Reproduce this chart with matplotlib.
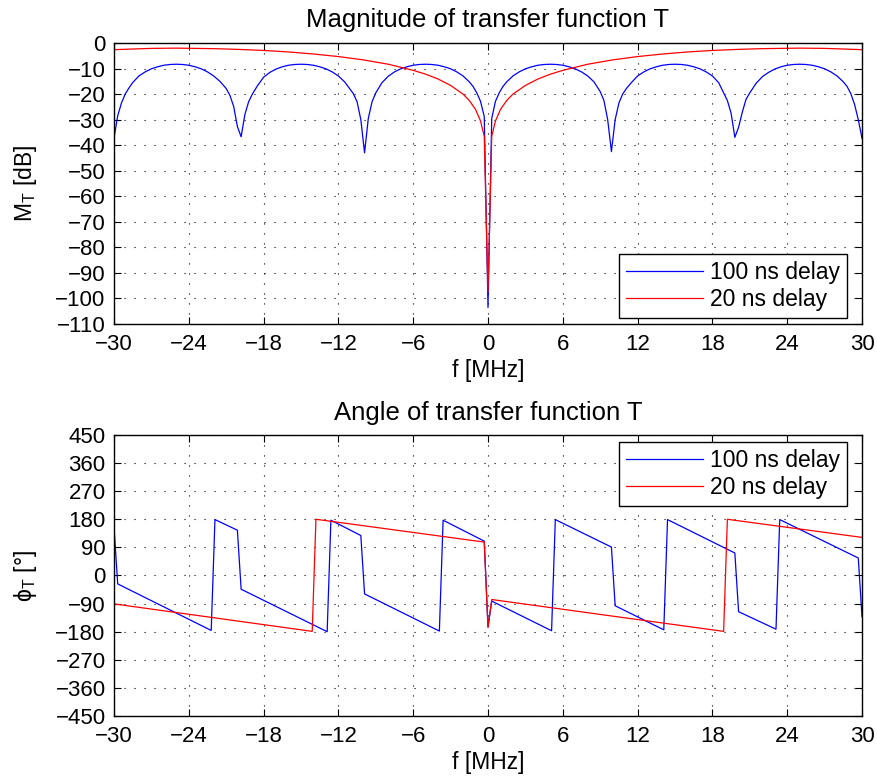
import numpy as np
import matplotlib
matplotlib.use("Agg")
import matplotlib.pyplot as plt

plt.rcParams["font.family"] = ["Liberation Sans", "DejaVu Sans"]
plt.rcParams["mathtext.fontset"] = "custom"
plt.rcParams["mathtext.rm"] = "Liberation Sans"
plt.rcParams["mathtext.it"] = "Liberation Sans"

# magnitude, 100 ns delay (f in MHz, dB)
f_mag_100 = [-30.0, -29.7, -29.4, -29.1, -28.8, -28.5, -28.0, -27.5, -27.0, -26.5,
             -26.0, -25.5, -25.0, -24.5, -24.0, -23.5, -23.0, -22.5, -22.0, -21.5,
             -21.0, -20.7, -20.4, -20.1, -19.8, -19.5, -19.2, -18.9, -18.5, -18.0,
             -17.5, -17.0, -16.5, -16.0, -15.5, -15.0, -14.5, -14.0, -13.5, -13.0,
             -12.5, -12.0, -11.5, -11.1, -10.8, -10.5, -10.2, -9.9, -9.6, -9.3,
             -9.0, -8.5, -8.0, -7.5, -7.0, -6.5, -6.0, -5.5, -5.0, -4.5,
             -4.0, -3.5, -3.0, -2.5, -2.0, -1.5, -1.2, -0.9, -0.6, -0.3,
             0.0, 0.3, 0.6, 0.9, 1.2, 1.5, 2.0, 2.5, 3.0, 3.5,
             4.0, 4.5, 5.0, 5.5, 6.0, 6.5, 7.0, 7.5, 8.0, 8.5,
             9.0, 9.3, 9.6, 9.9, 10.2, 10.5, 10.8, 11.1, 11.5, 12.0,
             12.5, 13.0, 13.5, 14.0, 14.5, 15.0, 15.5, 16.0, 16.5, 17.0,
             17.5, 18.0, 18.5, 18.9, 19.2, 19.5, 19.8, 20.1, 20.4, 20.7,
             21.0, 21.5, 22.0, 22.5, 23.0, 23.5, 24.0, 24.5, 25.0, 25.5,
             26.0, 26.5, 27.0, 27.5, 28.0, 28.5, 28.8, 29.1, 29.4, 29.7,
             30.0]
mag_100 = [-37.3, -28.5, -23.5, -20.0, -17.6, -15.5, -12.9, -11.3, -10.1, -9.3,
           -8.7, -8.4, -8.3, -8.4, -8.7, -9.3, -10.1, -11.3, -12.9, -15.0,
           -17.8, -20.5, -24.8, -32.7, -36.7, -28.0, -23.0, -20.0, -16.8, -13.4,
           -11.5, -10.2, -9.3, -8.7, -8.4, -8.3, -8.4, -8.7, -9.3, -10.1,
           -11.3, -12.9, -15.2, -17.8, -19.8, -23.0, -30.0, -43.0, -29.5, -23.0,
           -19.5, -15.5, -13.0, -11.3, -10.1, -9.3, -8.7, -8.4, -8.3, -8.4,
           -8.7, -9.3, -10.1, -11.3, -12.9, -15.2, -17.0, -19.5, -22.8, -28.8,
           -103.5, -29.5, -22.8, -19.5, -17.0, -15.2, -12.9, -11.3, -10.1, -9.3,
           -8.7, -8.4, -8.3, -8.4, -8.7, -9.3, -10.1, -11.3, -12.9, -15.2,
           -19.0, -22.5, -30.0, -42.5, -30.0, -23.5, -20.0, -17.8, -15.5, -12.9,
           -11.3, -10.1, -9.3, -8.7, -8.4, -8.3, -8.4, -8.7, -9.3, -10.1,
           -11.3, -12.9, -15.5, -19.5, -22.5, -27.5, -36.9, -33.0, -27.0, -22.0,
           -19.5, -15.8, -13.2, -11.5, -10.2, -9.3, -8.7, -8.4, -8.3, -8.4,
           -8.7, -9.3, -10.1, -11.3, -12.9, -15.2, -17.0, -19.8, -24.0, -30.0,
           -37.3]

# magnitude, 20 ns delay
f_mag_20 = [-30.0, -27.0, -25.0, -22.0, -20.0, -18.0, -16.0, -14.0, -12.0, -10.0,
            -8.0, -6.0, -5.0, -4.0, -3.0, -2.0, -1.5, -1.0, -0.6, -0.3,
            0.0, 0.3, 0.6, 1.0, 1.5, 2.0, 3.0, 4.0, 5.0, 6.0,
            8.0, 10.0, 12.0, 14.0, 16.0, 18.0, 20.0, 22.0, 25.0, 27.0, 30.0]
mag_20 = [-2.6, -2.1, -2.0, -2.2, -2.5, -2.9, -3.5, -4.3, -5.3, -6.6,
          -8.3, -10.7, -12.2, -14.1, -16.6, -20.0, -22.5, -26.0, -30.5, -36.5,
          -97.3, -36.5, -30.5, -26.0, -22.5, -20.0, -16.6, -14.1, -12.2, -10.7,
          -8.3, -6.6, -5.3, -4.3, -3.5, -2.9, -2.5, -2.2, -2.0, -2.1, -2.6]

# phase (degrees)
f_ph_100 = [-30.0, -29.7, -22.2, -21.9, -20.1, -19.8, -12.9, -12.6, -10.2, -9.9,
            -3.9, -3.6, -0.3, 0.0, 0.3, 5.1, 5.4, 9.9, 10.2, 14.1,
            14.4, 19.8, 20.1, 23.1, 23.4, 29.7, 30.0]
ph_100 = [157, -27, -176, 179, 145, -44, -180, 177, 128, -59,
          -178, 177, 110, -165, -82, -177, 179, 91, -97, -174,
          179, 72, -116, -172, 179, 56, -132]

f_ph_20 = [-30.0, -14.1, -13.8, -0.3, 0.0, 0.3, 18.9, 19.2, 30.0]
ph_20 = [-91, -179, 180, 107, -166, -77, -179, 180, 122]

labels = ["100 ns delay", "20 ns delay"]

fig = plt.figure(figsize=(8.78, 7.78), dpi=100)
ax1 = fig.add_axes([0.1298, 0.5835, 0.852, 0.3612])
ax2 = fig.add_axes([0.1298, 0.0797, 0.852, 0.3612])

leg_kw = dict(fancybox=False, edgecolor="k", framealpha=1, borderaxespad=0,
              borderpad=0.3, handlelength=3.35, handletextpad=0.32,
              labelspacing=0.2, fontsize=16.5)

ax1.plot(f_mag_100, mag_100, color="b", lw=0.9, label=labels[0])
ax1.plot(f_mag_20, mag_20, color="r", lw=0.9, label=labels[1])
ax1.set_ylim(-110, 0)
ax1.set_yticks(np.arange(-110, 1, 10))
ax1.set_title("Magnitude of transfer function T", fontsize=18.5, pad=11.5)
ax1.set_ylabel(r"$\mathregular{M_T}$ [dB]", fontsize=16.5)
ax1.legend(loc="lower right", bbox_to_anchor=(0.98, 0.021), **leg_kw)

ax2.plot(f_ph_100, ph_100, color="b", lw=0.9, label=labels[0])
ax2.plot(f_ph_20, ph_20, color="r", lw=0.9, label=labels[1])
ax2.set_ylim(-450, 450)
ax2.set_yticks(np.arange(-450, 451, 90))
ax2.set_title("Angle of transfer function T", fontsize=18.5, pad=11)
ax2.set_ylabel(r"$\mathregular{\phi_T}$ [°]", fontsize=16.5)
ax2.legend(loc="upper right", bbox_to_anchor=(0.98, 0.975), **leg_kw)

for ax in (ax1, ax2):
    ax.set_xlim(-30, 30)
    ax.set_xticks(np.arange(-30, 31, 6))
    ax.set_xlabel("f [MHz]", fontsize=16.5, labelpad=3)
    ax.yaxis.set_label_coords(-0.1, 0.5)
    ax.grid(True, color="k", linestyle=(0, (1, 8)), linewidth=0.8)
    ax.tick_params(direction="in", top=True, right=True, length=5, width=0.8,
                   labelsize=16)
    ax.tick_params(axis="x", pad=7)
    ax.tick_params(axis="y", pad=6)
    for s in ax.spines.values():
        s.set_linewidth(1.0)

fig.savefig("out.png", dpi=100)
